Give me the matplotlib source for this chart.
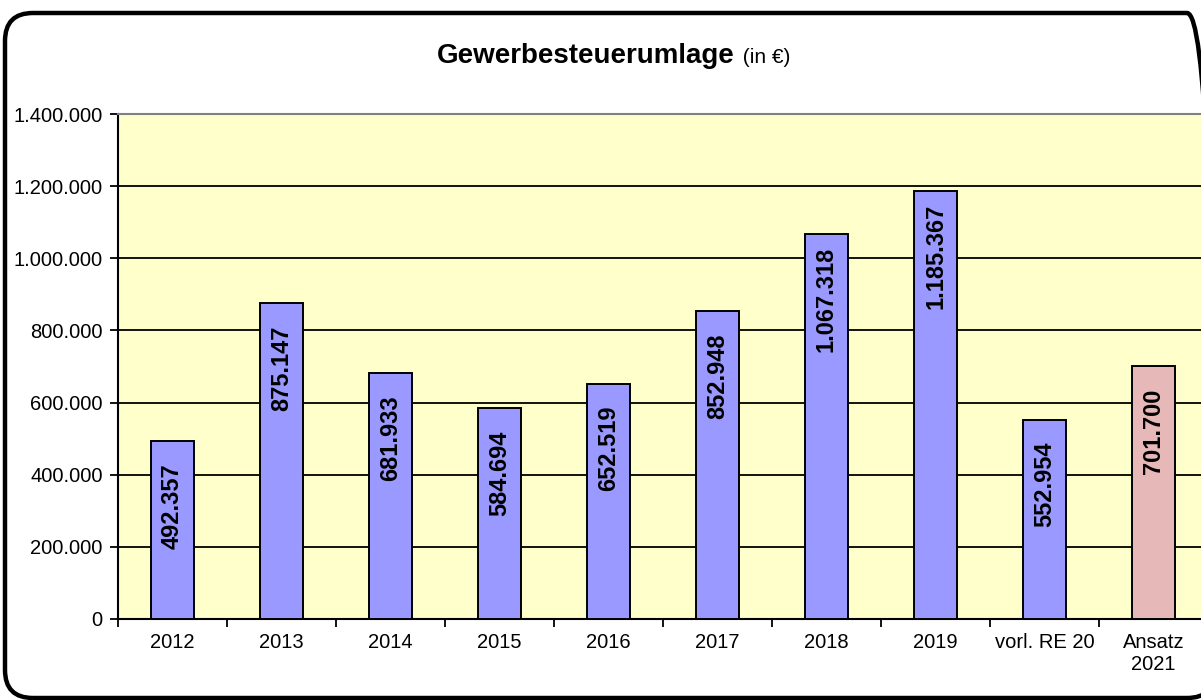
import matplotlib.pyplot as plt
from matplotlib.patches import FancyBboxPatch
from matplotlib.ticker import FuncFormatter, FixedLocator

plt.rcParams['font.family'] = ['Liberation Sans', 'DejaVu Sans']

categories = ['2012', '2013', '2014', '2015', '2016', '2017', '2018', '2019',
              'vorl. RE 20', 'Ansatz\n2021']
values = [492357, 875147, 681933, 584694, 652519, 852948, 1067318, 1185367,
          552954, 701700]
colors = ['#9999FF'] * 9 + ['#E6B9B8']


def de_fmt(v, pos=None):
    return f'{int(round(v)):,}'.replace(',', '.')


fig = plt.figure(figsize=(12.01, 7.0), dpi=100)

# rounded frame around the chart (right side runs off the canvas)
frame = FancyBboxPatch((0.05, 0.02), 12.1, 6.85,
                       boxstyle='round,pad=0,rounding_size=0.28',
                       transform=fig.dpi_scale_trans, fill=False,
                       edgecolor='black', linewidth=3.2, clip_on=False)
fig.patches.append(frame)

ax = fig.add_axes([118 / 1201, 81 / 700, 1090 / 1201, 505 / 700])
ax.set_facecolor('#FFFFCC')

x = list(range(len(categories)))
ax.bar(x, values, width=0.4, color=colors, edgecolor='black', linewidth=1.4,
       zorder=3)

for xi, v in zip(x, values):
    ax.annotate(de_fmt(v), (xi, v), xytext=(0, -65), textcoords='offset pixels',
                rotation=90, ha='center', va='center', fontsize=17,
                fontweight='bold', zorder=4)

ax.set_xlim(-0.5, len(categories) - 0.5)
ax.set_ylim(0, 1400000)
ax.set_yticks(range(0, 1400001, 200000))
ax.yaxis.set_major_formatter(FuncFormatter(de_fmt))
ax.grid(axis='y', color='black', linewidth=1.3, zorder=1)

ax.set_xticks(x)
ax.set_xticklabels(categories)
ax.xaxis.set_minor_locator(FixedLocator([i - 0.5 for i in x]))
ax.tick_params(axis='x', which='major', length=0, pad=10, labelsize=14.5)
ax.tick_params(axis='x', which='minor', length=6, width=1.3, direction='out')
ax.tick_params(axis='y', length=6, width=1.3, direction='out', labelsize=14.5,
               pad=5)

ax.spines['left'].set_linewidth(1.5)
ax.spines['bottom'].set_linewidth(1.5)
ax.spines['top'].set_color('#808080')
ax.spines['top'].set_linewidth(1.5)
ax.spines['right'].set_visible(False)

fig.text(735 / 1201, 0.91, 'Gewerbesteuerumlage', ha='right', va='baseline',
         fontsize=20, fontweight='bold')
fig.text(737 / 1201, 0.91, ' (in €)', ha='left', va='baseline', fontsize=15)

fig.savefig('out.png', dpi=100)
plt.close(fig)
